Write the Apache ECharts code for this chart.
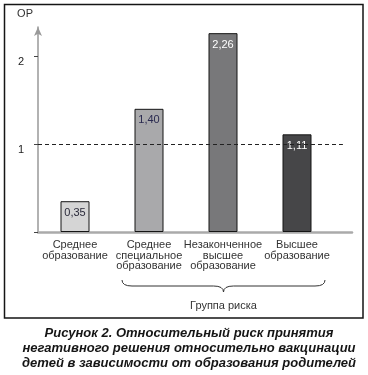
<!DOCTYPE html>
<html>
<head>
<meta charset="utf-8">
<script src="https://cdn.jsdelivr.net/npm/echarts@6/dist/echarts.min.js"></script>
<style>
html,body{margin:0;padding:0;background:#fff;}
#c{width:368px;height:375px;}
</style>
</head>
<body>
<div id="c"></div>
<script>
// ---- data ----
const categories = [
  'Среднее\nобразование',
  'Среднее\nспециальное\nобразование',
  'Незаконченное\nвысшее\nобразование',
  'Высшее\nобразование'
];
const values = [0.35, 1.40, 2.26, 1.11];
const valueLabels = ['0,35', '1,40', '2,26', '1,11'];
const barColors = ['#d5d5d5', '#a9a9ab', '#78787a', '#464648'];
const labelColors = ['#2a2a3a', '#2a2a50', '#ffffff', '#ffffff'];
const referenceValue = 1;
const riskGroup = [1, 3]; // category index range of "Группа риска"
const riskGroupLabel = 'Группа риска';
const yName = 'ОР';
const caption = 'Рисунок 2. Относительный риск принятия\nнегативного решения относительно вакцинации\nдетей в зависимости от образования родителей';

const FONT = '"Liberation Sans", Arial, sans-serif';
const yMax = 2.33;

const chart = echarts.init(document.getElementById('c'), null, {renderer: 'canvas'});
chart.setOption({
  animation: false,
  backgroundColor: '#fff',
  textStyle: {fontFamily: FONT},
  title: {
    text: caption,
    left: '50%',
    top: 321,
    textAlign: 'center',
    textStyle: {fontFamily: FONT, fontSize: 13, fontWeight: 'bold', fontStyle: 'italic', color: '#151515', lineHeight: 15, align: 'center'}
  },
  graphic: [{
    type: 'rect', silent: true, z: -1,
    shape: {x: 4.5, y: 4.5, width: 358.5, height: 313.5},
    style: {fill: 'none', stroke: '#151515', lineWidth: 1.5}
  }],
  grid: [
    {left: 38, width: 296, top: 27, bottom: 143, containLabel: false},
    {left: 38, right: 16, top: 27, bottom: 143, containLabel: false}
  ],
  xAxis: [{
    type: 'category', gridIndex: 0, data: categories,
    axisLine: {show: false}, axisTick: {show: false},
    axisLabel: {interval: 0, margin: 8, fontSize: 11, lineHeight: 10.5, color: '#333', fontFamily: FONT}
  }, {
    type: 'value', gridIndex: 1, min: 0, max: 1,
    axisLine: {show: true, lineStyle: {color: '#aaaaaa', width: 2.5}},
    axisTick: {show: false}, axisLabel: {show: false}, splitLine: {show: false}
  }],
  yAxis: [{
    type: 'value', gridIndex: 0, min: 0, max: yMax, interval: 1,
    name: yName, nameLocation: 'end', nameGap: 8,
    nameTextStyle: {align: 'right', padding: [0, 5, 0, 0], fontSize: 11, color: '#333', fontFamily: FONT},
    axisLine: {show: true, symbol: ['none', 'arrow'], symbolSize: [6, 9], lineStyle: {color: '#999', width: 1.5}},
    axisTick: {show: true, length: 4, lineStyle: {color: '#444'}},
    axisLabel: {
      margin: 14, fontSize: 11, color: '#222', verticalAlign: 'top', showMaxLabel: false, fontFamily: FONT,
      formatter: v => (v > 0 && Number.isInteger(v)) ? String(v) : ''
    },
    splitLine: {show: false}
  }, {
    type: 'value', gridIndex: 1, min: 0, max: yMax, show: false
  }],
  series: [{
    type: 'bar', xAxisIndex: 0, yAxisIndex: 0, barWidth: 29, z: 3,
    data: values.map((v, i) => ({
      value: v,
      itemStyle: {color: barColors[i], borderColor: '#151515', borderWidth: 1},
      label: {color: labelColors[i]}
    })),
    label: {
      show: true, position: 'insideTop', distance: 6, fontSize: 11, fontFamily: FONT,
      formatter: p => valueLabels[p.dataIndex]
    }
  }, {
    type: 'line', xAxisIndex: 1, yAxisIndex: 1, data: [], z: 2,
    markLine: {
      silent: true, symbol: 'none', label: {show: false},
      lineStyle: {color: '#222', type: [4, 3], width: 1},
      data: [[{coord: [0, referenceValue]}, {coord: [0.971, referenceValue]}]]
    }
  }, {
    type: 'custom', xAxisIndex: 0, yAxisIndex: 0, silent: true, clip: false, z: 4,
    encode: {x: [0, 1], y: 2},
    data: [[riskGroup[0], riskGroup[1], 0]],
    renderItem: function (params, api) {
      const band = api.size([1, 0])[0];
      const a = api.coord([api.value(0), 0]);
      const b = api.coord([api.value(1), 0]);
      const x1 = a[0] - band / 2 + 10;
      const x2 = b[0] + band / 2 - 9;
      const y = a[1] + 48;
      const mid = (x1 + x2) / 2;
      const h = 6;
      const path = 'M' + x1 + ' ' + y +
        ' Q' + x1 + ' ' + (y + h) + ' ' + (x1 + 10) + ' ' + (y + h) +
        ' L' + (mid - 10) + ' ' + (y + h) +
        ' Q' + mid + ' ' + (y + h) + ' ' + mid + ' ' + (y + h + 6) +
        ' Q' + mid + ' ' + (y + h) + ' ' + (mid + 10) + ' ' + (y + h) +
        ' L' + (x2 - 10) + ' ' + (y + h) +
        ' Q' + x2 + ' ' + (y + h) + ' ' + x2 + ' ' + y;
      return {
        type: 'group',
        children: [{
          type: 'path',
          shape: {pathData: path},
          style: {fill: null, stroke: '#333', lineWidth: 1}
        }, {
          type: 'text',
          style: {
            x: mid, y: y + 26, text: riskGroupLabel, align: 'center', verticalAlign: 'middle',
            fontSize: 11, fontFamily: FONT, fill: '#333'
          }
        }]
      };
    }
  }]
});
</script>
</body>
</html>
